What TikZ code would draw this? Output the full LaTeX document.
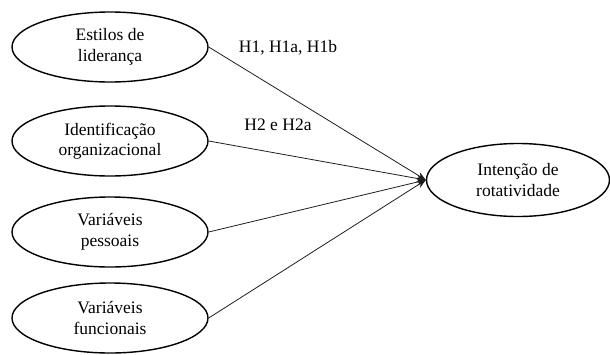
\documentclass[tikz,border=0pt]{standalone}
\usepackage{fontspec}
\setmainfont{Liberation Serif}
\usetikzlibrary{arrows.meta,shapes.geometric}
\definecolor{inkgray}{RGB}{30,30,30}

\begin{document}
\begin{tikzpicture}[
      x=1pt, y=-1pt,
      construct/.style={ellipse, draw=black, line width=1.4pt, minimum width=196pt, minimum height=70pt, align=center, inner sep=0pt, font=\fontsize{17.5}{20.5}\selectfont, text=black},
      path/.style={draw=inkgray, line width=0.8pt, -{Stealth[length=9pt,width=7pt]}},
      hyplabel/.style={font=\fontsize{17.5}{20.5}\selectfont, text=black, inner sep=0pt}
    ]
      \useasboundingbox (0,0) rectangle (610,354);

      % antecedentes
      \node[construct] (lider) at (110, 47) {Estilos de\\lideran\c{c}a};
      \node[construct] (ident) at (110, 141) {Identifica\c{c}\~ao\\organizacional};
      \node[construct] (pess) at (110, 232) {Vari\'aveis\\pessoais};
      \node[construct] (func) at (110, 318) {Vari\'aveis\\funcionais};

      % consequente
      \node[construct, minimum width=183pt, minimum height=73pt] (rot) at (518, 180) {Inten\c{c}\~ao de\\rotatividade};

      % caminhos
      \draw[path] (lider.east) -- (rot.west);
      \draw[path] (ident.east) -- (rot.west);
      \draw[path] (pess.east) -- (rot.west);
      \draw[path] (func.east) -- (rot.west);

      % hipoteses
      \node[hyplabel] (h1) at (288, 48) {H1, H1a, H1b};
      \node[hyplabel] (h2) at (278, 125) {H2 e H2a};
    \end{tikzpicture}
\end{document}
